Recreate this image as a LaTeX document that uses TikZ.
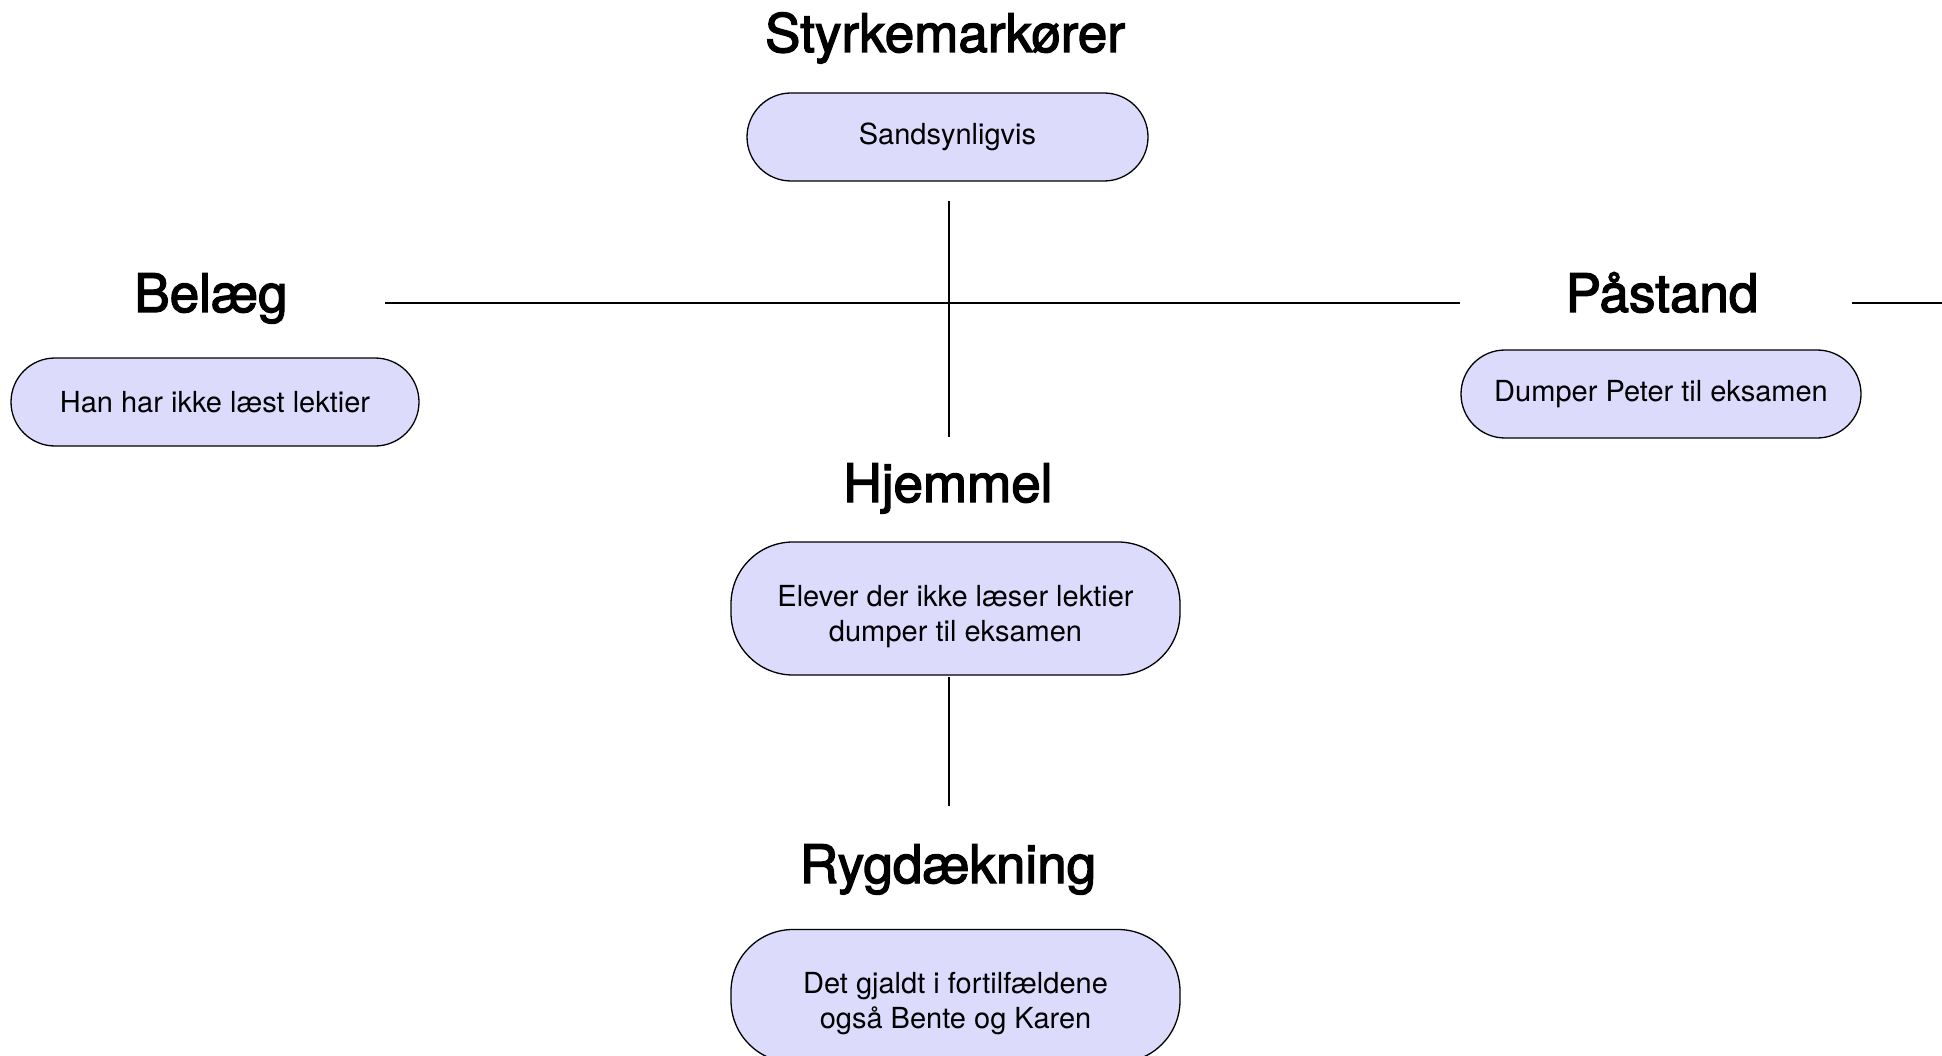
\documentclass[tikz,border=0pt]{standalone}
\usepackage{fontspec}
\setmainfont{TeX Gyre Heros}
\newfontfamily\headfont[FakeBold=2.5]{TeX Gyre Heros}
\usepackage{xcolor}
\usepackage{tikz}

\definecolor{boxfill}{RGB}{221,219,252}

\begin{document}
\begin{tikzpicture}[x=1pt, y=-1pt,
        title/.style={anchor=base, inner sep=0pt, font=\headfont\fontsize{53}{60}\selectfont},
        claim/.style={draw, line width=1.3pt, rectangle, rounded corners=44pt, fill=boxfill, minimum height=88pt, align=center, font=\fontsize{29}{35}\selectfont},
        bigclaim/.style={claim, rounded corners=62pt, minimum height=133pt, text height=71pt, text depth=6pt},
        link/.style={line width=1.5pt}]
        \useasboundingbox[fill=white] (0,0) rectangle (1942,1056);

        \node[title] (styrke) at (945,52) {Styrkemarkører};
        \node[claim, minimum width=401pt] (sand) at (947.5,137) {Sandsynligvis};

        \node[title] (belaeg) at (211,312) {Belæg};
        \node[claim, minimum width=408pt] (han) at (215,402) {Han har ikke læst lektier};

        \node[title] (pastand) at (1662,312) {Påstand};
        \node[claim, minimum width=400pt] (dumper) at (1661,394) {Dumper Peter til eksamen};

        \node[title] (hjemmel) at (948,502) {Hjemmel};
        \node[bigclaim, minimum width=449pt] (elever) at (955.5,608.5) {Elever der ikke læser lektier\\dumper til eksamen};

        \node[title] (ryg) at (948,883) {Rygdækning};
        \node[bigclaim, minimum width=449pt] (gjaldt) at (955.5,996) {Det gjaldt i fortilfældene\\også Bente og Karen};

        % free ends of the lines
        \coordinate (top) at (949,201);
        \coordinate (mid) at (949,437);
        \coordinate (left) at (385,303);
        \coordinate (right) at (1460,303);
        \coordinate (out1) at (1852,303);
        \coordinate (out2) at (1942,303);
        \coordinate (low1) at (949,677);
        \coordinate (low2) at (949,806);

        \draw[link] (top) -- (mid);
        \draw[link] (left) -- (right);
        \draw[link] (out1) -- (out2);
        \draw[link] (low1) -- (low2);
    \end{tikzpicture}
\end{document}
